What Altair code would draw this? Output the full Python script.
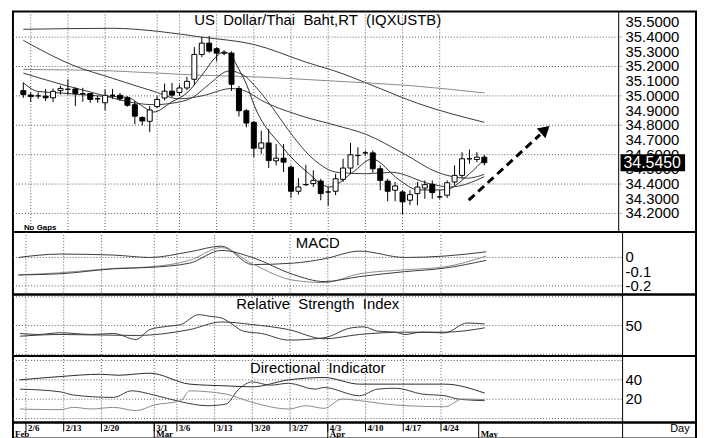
import altair as alt
import pandas as pd

# ---------------- data ----------------
days = list(range(63))
opens = [35.036, 35.006, 35.0, 34.998, 34.987, 35.036, 35.045, 35.047, 35.015, 35.016,
         34.98, 34.953, 35.004, 35.004, 34.987, 34.94, 34.853, 34.827, 34.927, 34.986,
         35.032, 35.023, 35.054, 35.113, 35.282, 35.359, 35.321, 35.291, 35.291, 35.05,
         34.899, 34.82, 34.644, 34.68, 34.558, 34.576, 34.515, 34.351, 34.396, 34.403,
         34.42, 34.346, 34.351, 34.432, 34.509, 34.594, 34.612, 34.612, 34.504, 34.42,
         34.358, 34.346, 34.29, 34.335, 34.373, 34.398, 34.313, 34.324, 34.414, 34.459,
         34.572, 34.567, 34.583]
highs = [35.09, 35.024, 35.024, 35.047, 35.05, 35.069, 35.113, 35.058, 35.055, 35.02,
         34.998, 35.044, 35.047, 35.02, 34.998, 34.965, 34.862, 34.931, 34.998, 35.084,
         35.088, 35.077, 35.129, 35.332, 35.40, 35.407, 35.332, 35.31, 35.303, 35.068,
         34.91, 34.83, 34.763, 34.775, 34.673, 34.673, 34.527, 34.44, 34.531, 34.493,
         34.436, 34.38, 34.47, 34.572, 34.68, 34.65, 34.628, 34.628, 34.527, 34.436,
         34.414, 34.358, 34.358, 34.414, 34.425, 34.425, 34.358, 34.425, 34.527, 34.617,
         34.635, 34.617, 34.599]
lows = [34.987, 34.958, 34.98, 34.965, 34.958, 35.009, 35.009, 34.931, 34.96, 34.953,
        34.953, 34.902, 34.98, 34.965, 34.927, 34.807, 34.80, 34.753, 34.916, 34.97,
        34.993, 35.0, 35.038, 35.072, 35.264, 35.294, 35.235, 35.276, 35.034, 34.86,
        34.786, 34.583, 34.606, 34.509, 34.527, 34.482, 34.306, 34.328, 34.387, 34.38,
        34.29, 34.252, 34.324, 34.414, 34.47, 34.527, 34.594, 34.477, 34.358, 34.283,
        34.283, 34.193, 34.256, 34.256, 34.30, 34.30, 34.297, 34.306, 34.391, 34.436,
        34.538, 34.549, 34.527]
closes = [35.009, 34.995, 35.0, 34.987, 35.031, 35.051, 35.045, 35.016, 35.015, 34.976,
          34.98, 35.004, 35.004, 34.98, 34.936, 34.862, 34.829, 34.904, 34.976, 35.032,
          35.005, 35.054, 35.099, 35.282, 35.359, 35.305, 35.291, 35.291, 35.079, 34.899,
          34.815, 34.644, 34.68, 34.56, 34.576, 34.549, 34.351, 34.38, 34.396, 34.425,
          34.335, 34.346, 34.436, 34.509, 34.599, 34.594, 34.612, 34.504, 34.425, 34.351,
          34.387, 34.279, 34.328, 34.38, 34.396, 34.342, 34.313, 34.409, 34.459, 34.572,
          34.572, 34.583, 34.545]

# moving-average lines on the price panel
ma_a_days = [0, 12, 18, 24, 31, 38, 43, 47, 53, 62]
ma_a_vals = [35.453, 35.46, 35.44, 35.40, 35.35, 35.23, 35.15, 35.07, 34.95, 34.82]
ma_b_days = [0, 12, 24, 31, 42, 52, 62]
ma_b_vals = [35.18, 35.17, 35.14, 35.13, 35.10, 35.07, 35.02]
ma_c_days = [0, 6.6, 12, 17.6, 21, 24, 28, 30, 32, 37, 42, 46, 51.4, 55.7, 59.7, 62]
ma_c_vals = [35.378, 35.21, 35.12, 35.03, 34.98, 35.0, 35.05, 35.03, 34.97, 34.87,
             34.80, 34.74, 34.60, 34.48, 34.44, 34.466]
ma_d_days = [0, 8, 17.6, 20, 22.8, 25, 27.7, 29.8, 31.1, 33.5, 35.6, 39, 42.2, 46.1,
             49.5, 54.8, 57.4, 62]
ma_d_vals = [35.155, 35.04, 34.94, 34.95, 34.99, 35.08, 35.17, 35.135, 35.07, 34.92,
             34.77, 34.57, 34.48, 34.47, 34.48, 34.40, 34.38, 34.45]
ma_e_days = [0, 2, 5, 10, 14, 16, 17.5, 20, 22, 24, 26, 27, 28, 29, 30, 31.1, 34.7,
             38.2, 41.2, 44.3, 46.9, 50.5, 53.1, 56.6, 60, 62]
ma_e_vals = [35.09, 35.03, 35.02, 35.0, 34.99, 34.93, 34.89, 34.96, 35.02, 35.14, 35.27,
             35.30, 35.27, 35.18, 35.08, 34.93, 34.66, 34.48, 34.38, 34.48, 34.57, 34.43,
             34.36, 34.36, 34.47, 34.57]

# MACD panel
macd_days = [0, 5.5, 12.6, 17.4, 22.7, 26.9, 31, 36.4, 40.5, 45.2, 51.2, 56.5, 62]
macd_upper = [0.0, 0.024, 0.017, 0.0, 0.04, 0.08, -0.05, -0.04, -0.01, 0.045, 0.0, 0.01, 0.04]
macd_line = [-0.123, -0.108, -0.077, -0.066, -0.02, 0.07, -0.045, -0.16, -0.177, -0.115,
             -0.087, -0.066, 0.01]
macd_signal = [-0.123, -0.115, -0.08, -0.07, -0.04, 0.05, 0.0, -0.12, -0.17, -0.135,
               -0.1, -0.075, -0.02]

# RSI panel
rsi_fast_days = [0.2, 2.6, 5.5, 9.7, 12.6, 15.6, 17.4, 19.8, 21.5, 23.9, 25.4, 26.9, 28.1,
                 29.8, 32.2, 35.8, 40.5, 44.1, 45.8, 47.6, 50.0, 51.2, 53.5, 56.5, 59.5, 61.8]
rsi_fast_vals = [44.5, 43.8, 45.0, 43.8, 44.5, 40.3, 47.2, 49.5, 50.7, 57.6, 56.4, 55.3, 51.8,
                 46.1, 44.5, 39.9, 41.5, 48.4, 49.1, 46.1, 45.4, 43.8, 45.4, 44.9, 51.8, 51.1]
rsi_slow_days = [0.2, 5.5, 15.6, 22.7, 26.9, 31.0, 35.8, 40.5, 45.2, 51.2, 56.5, 61.8]
rsi_slow_vals = [42.6, 43.8, 43.1, 47.2, 52.5, 50.7, 47.2, 40.8, 43.8, 45.4, 45.4, 48.4]

# Directional indicator panel
di1_days = [0.2, 5.5, 10.9, 13.2, 17.4, 22.7, 27.5, 31, 35.8, 40.5, 45.2, 50, 56.5, 61.8]
di1_vals = [40, 43.4, 45.8, 44.8, 46.9, 35.6, 33.8, 32.8, 40, 42.4, 35.6, 35.6, 35.6, 26.3]
di2_days = [0.2, 5.5, 7.3, 12.6, 15, 18, 21.5, 25.1, 27.5, 29.2, 31, 33.4, 35.8, 39.3, 40.5,
            45.2, 47.6, 50, 53.5, 56.5, 58.3, 61.8]
di2_vals = [30.4, 27.7, 24.3, 21.9, 28.7, 24.3, 17.4, 13.3, 15, 30.4, 37.9, 34.5, 36.5, 30.4,
            32.1, 23.6, 30.4, 31.4, 25.3, 23.6, 20.2, 18.5]
di3_days = [0.2, 5.5, 7.3, 9.7, 12.6, 15.6, 18, 21.5, 22.7, 25.1, 27.5, 31, 35.8, 38.1, 40.5,
            42.9, 45.2, 50, 56.5, 58.9, 61.8]
di3_vals = [9.9, 9.2, 11.6, 9.9, 11.6, 8.2, 14, 18.5, 28.7, 27.7, 25.3, 16.8, 9.9, 13.3, 10.6,
            20.2, 18.5, 14, 12.3, 20.2, 19.5]

# axis / label texts
price_ticks = [35.5, 35.4, 35.3, 35.2, 35.1, 35.0, 34.9, 34.8, 34.7, 34.6, 34.5, 34.4, 34.3, 34.2]
price_tick_labels = ["35.5000", "35.4000", "35.3000", "35.2000", "35.1000", "35.0000",
                     "34.9000", "34.8000", "34.7000", "34.6000", "34.5000", "34.4000",
                     "34.3000", "34.2000"]
price_grid = [35.4, 35.2, 35.0, 34.8, 34.6, 34.4, 34.2]
macd_ticks = [0, -0.1, -0.2]
macd_tick_labels = ["0", "-0.1", "-0.2"]
macd_grid = [0, -0.2]
rsi_ticks = [50]
rsi_tick_labels = ["50"]
rsi_grid = [30, 50, 70]
di_ticks = [20, 40]
di_tick_labels = ["20", "40"]
di_grid = [0, 20, 40, 60]
date_tick_days = [1, 6, 11, 18, 21, 26, 31, 36, 41, 46, 51, 56]
date_tick_labels = ["2/6", "2/13", "2/20", "3/1", "3/6", "3/13", "3/20", "3/27",
                    "4/3", "4/10", "4/17", "4/24"]
month_days = [18, 41, 61]
month_labels = ["Mar", "Apr", "May"]
arrow_days = [59.9, 69.5]
arrow_prices = [34.29, 34.736]
arrow_head = (70.2, 34.77)

# ---------------- layout constants ----------------
FONT = "Liberation Sans"
NARROW = "Liberation Sans Narrow"
W = 688
PLOT_W = 614
XMIN, XMAX = -0.724, 89.80
SEP_DAY = 80.07
GRID_COLOR = "#5a5a5a"

xs = alt.Scale(domain=[XMIN, XMAX], nice=False, zero=False)


def X(f):
    return alt.X(f, type="quantitative", scale=xs, axis=None)


def common_layers(yscale, grid_vals, tick_vals, tick_labels):
    hgrid = alt.Chart(pd.DataFrame({"v": grid_vals})).mark_rule(
        color=GRID_COLOR, strokeDash=[1, 2], strokeWidth=1).encode(
        y=alt.Y("v:Q", scale=yscale, axis=None),
        x=alt.value(0), x2=alt.value(PLOT_W))
    vgrid = alt.Chart(pd.DataFrame({"day": date_tick_days})).mark_rule(
        color=GRID_COLOR, strokeDash=[1, 2], strokeWidth=1).encode(x=X("day"))
    sep = alt.Chart(pd.DataFrame({"day": [SEP_DAY]})).mark_rule(
        color="black", strokeWidth=1).encode(x=X("day"))
    labels = alt.Chart(pd.DataFrame({"v": tick_vals, "label": tick_labels})).mark_text(
        font=FONT, fontSize=15, color="black", align="left", baseline="middle").encode(
        y=alt.Y("v:Q", scale=yscale, axis=None), x=alt.value(PLOT_W + 3), text="label:N")
    return [hgrid, vgrid, sep, labels]


def title_layer(text, y):
    return alt.Chart(pd.DataFrame({"t": [text]})).mark_text(
        font=FONT, fontSize=15, color="black", align="center", baseline="middle").encode(
        x=alt.value(307), y=alt.value(y), text="t:N")


def lines_df(series):
    rows = []
    for name, ds, vs in series:
        for k, (d, v) in enumerate(zip(ds, vs)):
            rows.append({"series": name, "day": d, "value": v, "k": k})
    return pd.DataFrame(rows)


def line_layer(df, yscale, names, colors):
    return alt.Chart(df).mark_line(strokeWidth=1, interpolate="monotone").encode(
        x=X("day"), y=alt.Y("value:Q", scale=yscale, axis=None),
        color=alt.Color("series:N", scale=alt.Scale(domain=names, range=colors), legend=None),
        detail="series:N", order="k:Q")


# ---------------- price panel ----------------
ys_price = alt.Scale(domain=[34.074, 35.574], nice=False, zero=False)
cdf = pd.DataFrame({"day": days, "open": opens, "high": highs, "low": lows, "close": closes})
cdf["dir"] = ["up" if c >= o else "down" for o, c in zip(opens, closes)]

ma_df = lines_df([("A", ma_a_days, ma_a_vals), ("B", ma_b_days, ma_b_vals),
                  ("C", ma_c_days, ma_c_vals), ("D", ma_d_days, ma_d_vals),
                  ("E", ma_e_days, ma_e_vals)])
ma = line_layer(ma_df, ys_price, ["A", "B", "C", "D", "E"],
                ["#3a3a3a", "#8a8a8a", "#3a3a3a", "#3a3a3a", "#2a2a2a"])

wicks = alt.Chart(cdf).mark_rule(color="black", strokeWidth=1).encode(
    x=X("day"), y=alt.Y("low:Q", scale=ys_price, axis=None), y2="high:Q")
bodies = alt.Chart(cdf).mark_bar(size=5, stroke="black", strokeWidth=1).encode(
    x=X("day"), y=alt.Y("open:Q", scale=ys_price, axis=None), y2="close:Q",
    fill=alt.Fill("dir:N", scale=alt.Scale(domain=["up", "down"], range=["white", "black"]),
                  legend=None))

arrow_line = alt.Chart(pd.DataFrame({"day": arrow_days, "p": arrow_prices})).mark_line(
    color="black", strokeWidth=3, strokeDash=[8, 5]).encode(
    x=X("day"), y=alt.Y("p:Q", scale=ys_price, axis=None))
arrow_tip = alt.Chart(pd.DataFrame({"day": [arrow_head[0]], "p": [arrow_head[1]]})).mark_point(
    shape="triangle-up", filled=True, size=170, angle=48, color="black", opacity=1).encode(
    x=X("day"), y=alt.Y("p:Q", scale=ys_price, axis=None))

last_df = pd.DataFrame({"v": [closes[-1]], "label": [f"{closes[-1]:.4f}"]})
last_box = alt.Chart(last_df).mark_rule(color="black", strokeWidth=17).encode(
    y=alt.Y("v:Q", scale=ys_price, axis=None), x=alt.value(612), x2=alt.value(677))
last_txt = alt.Chart(last_df).mark_text(
    font=FONT, fontSize=16, color="white", align="left", baseline="middle").encode(
    y=alt.Y("v:Q", scale=ys_price, axis=None), x=alt.value(615), text="label:N")

no_gaps = alt.Chart(pd.DataFrame({"t": ["No Gaps"]})).mark_text(
    font=FONT, fontSize=8, fontWeight="bold", align="left", baseline="middle").encode(
    x=alt.value(11), y=alt.value(218), text="t:N")

price = alt.layer(
    *common_layers(ys_price, price_grid, price_ticks, price_tick_labels),
    ma, wicks, bodies, arrow_line, arrow_tip, last_box, last_txt, no_gaps,
    title_layer("US\u00a0 Dollar/Thai\u00a0 Baht,RT\u00a0 (IQXUSTB)", 9),
).properties(width=W, height=222)

# ---------------- MACD panel ----------------
ys_macd = alt.Scale(domain=[-0.261, 0.18], nice=False, zero=False)
macd_df = lines_df([("u", macd_days, macd_upper), ("m", macd_days, macd_line),
                    ("s", macd_days, macd_signal)])
macd = alt.layer(
    *common_layers(ys_macd, macd_grid, macd_ticks, macd_tick_labels),
    line_layer(macd_df, ys_macd, ["u", "m", "s"], ["#555555", "#333333", "#555555"]),
    title_layer("MACD", 11),
).properties(width=W, height=63)

# ---------------- RSI panel ----------------
ys_rsi = alt.Scale(domain=[28.8, 71.6], nice=False, zero=False)
rsi_df = lines_df([("f", rsi_fast_days, rsi_fast_vals), ("s", rsi_slow_days, rsi_slow_vals)])
rsi = alt.layer(
    *common_layers(ys_rsi, rsi_grid, rsi_ticks, rsi_tick_labels),
    line_layer(rsi_df, ys_rsi, ["f", "s"], ["#333333", "#555555"]),
    title_layer("Relative\u00a0 Strength\u00a0 Index", 10),
).properties(width=W, height=62)

# ---------------- DI panel ----------------
ys_di = alt.Scale(domain=[-4.1, 64.6], nice=False, zero=False)
di_df = lines_df([("1", di1_days, di1_vals), ("2", di2_days, di2_vals), ("3", di3_days, di3_vals)])
di = alt.layer(
    *common_layers(ys_di, di_grid, di_ticks, di_tick_labels),
    line_layer(di_df, ys_di, ["1", "2", "3"], ["#444444", "#444444", "#444444"]),
    title_layer("Directional\u00a0 Indicator", 12),
).properties(width=W, height=67)

# ---------------- date band ----------------
tick_df = pd.DataFrame({"day": date_tick_days, "label": date_tick_labels})
month_df = pd.DataFrame({"day": month_days, "label": month_labels})
band = alt.layer(
    alt.Chart(tick_df).mark_rule(color="black", strokeWidth=1).encode(
        x=X("day"), y=alt.value(0), y2=alt.value(9)),
    alt.Chart(month_df).mark_rule(color="black", strokeWidth=1).encode(
        x=X("day"), y=alt.value(0), y2=alt.value(16)),
    alt.Chart(tick_df).mark_text(font=NARROW, fontSize=9, fontWeight="bold", align="left",
                                 baseline="middle", dx=2).encode(
        x=X("day"), y=alt.value(5), text="label:N"),
    alt.Chart(month_df).mark_text(font=NARROW, fontSize=9, fontWeight="bold", align="left",
                                  baseline="middle", dx=2).encode(
        x=X("day"), y=alt.value(12), text="label:N"),
    alt.Chart(pd.DataFrame({"label": ["Feb"]})).mark_text(
        font=NARROW, fontSize=9, fontWeight="bold", align="left", baseline="middle").encode(
        x=alt.value(2), y=alt.value(12), text="label:N"),
    alt.Chart(pd.DataFrame({"day": [SEP_DAY]})).mark_rule(color="black", strokeWidth=1).encode(
        x=X("day")),
    alt.Chart(pd.DataFrame({"label": ["Day"]})).mark_text(
        font=FONT, fontSize=11, align="left", baseline="middle").encode(
        x=alt.value(662), y=alt.value(6), text="label:N"),
).properties(width=W, height=16)

chart = alt.vconcat(price, macd, rsi, di, band, spacing=0, bounds="flush").properties(
    padding={"left": 3, "top": 0, "right": 0, "bottom": 0}
).configure(background="white").configure_view(stroke="black", strokeWidth=2)

chart.save("out.html", embed_options={"renderer": "svg", "actions": False})
